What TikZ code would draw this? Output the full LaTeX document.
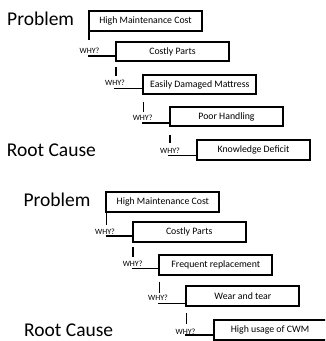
\documentclass[tikz,border=0pt]{standalone}
\usepackage{fontspec}
\setmainfont{Carlito}
\usetikzlibrary{calc}
\begin{document}
\begin{tikzpicture}[x=1pt,y=-1pt,
  causebox/.style={draw, line width=2pt, minimum width=113pt, minimum height=19.5pt, inner sep=0pt, outer sep=0pt, font=\fontsize{9.8}{10}\selectfont},
  conn/.style={line width=1.6pt},
  why/.style={anchor=base, inner sep=0pt, font=\fontsize{8}{8}\selectfont},
  biglabel/.style={anchor=base west, inner sep=0pt, font=\fontsize{19.5}{20}\selectfont}]
\useasboundingbox (0,0) rectangle (325,341);
\clip (0,0) rectangle (325,341);

% ---------- top diagram ----------
\node[biglabel] (tp) at (7,25.7) {Problem};
\node[biglabel] (tr) at (6.7,156) {Root Cause};

\node[causebox] (t1) at (145.5,20.75) {High Maintenance Cost};
\node[causebox] (t2) at (172.5,51.65) {Costly Parts};
\node[causebox] (t3) at (199.8,84.65) {Easily Damaged Mattress};
\node[causebox] (t4) at (226.5,116.65) {Poor Handling};
\node[causebox] (t5) at (253.5,150) {Knowledge Deficit};

\draw[conn] ($(t1.south west)+(0,1.5)$) -- ++(0,8);
\coordinate (th1) at (88.2,56);
\draw[conn] (th1) -- (t2.west |- th1);
\node[why] (tw1) at (89.5,53.3) {WHY?};

\draw[conn] ($(t2.south west)+(0,5.3)$) -- ++(0,9.3);
\coordinate (th2) at (114.2,88.3);
\draw[conn] (th2) -- (t3.west |- th2);
\node[why] (tw2) at (115,85) {WHY?};

\draw[conn] ($(t3.south west)+(0,7.3)$) -- ++(0,10);
\coordinate (th3) at (141.5,122.7);
\draw[conn] (th3) -- (t4.west |- th3);
\node[why] (tw3) at (142.7,120) {WHY?};

\draw[conn] ($(t4.south west)+(0,8.6)$) -- ++(0,8.3);
\coordinate (th4) at (168.2,155.3);
\draw[conn] (th4) -- (t5.west |- th4);
\node[why] (tw4) at (170,153.3) {WHY?};

% ---------- bottom diagram ----------
\node[biglabel] (bp) at (23.3,206) {Problem};
\node[biglabel] (br) at (24,336.7) {Root Cause};

\begin{scope}[every node/.append style={}]
\node[causebox, minimum height=20pt] (b1) at (162.85,201.7) {High Maintenance Cost};
\node[causebox, minimum height=20pt] (b2) at (189.2,231.85) {Costly Parts};
\node[causebox, minimum height=20pt] (b3) at (215.85,265) {Frequent replacement};
\node[causebox, minimum height=20pt] (b4) at (242.85,296.3) {Wear and tear};
\node[causebox, minimum height=20pt] (b5) at (270,330.3) {High usage of CWM};
\end{scope}

\draw[conn] ($(b1.south west)+(0,1.6)$) -- ++(0,11.7);
\coordinate (bh1) at (105.7,236);
\draw[conn] (bh1) -- (b2.west |- bh1);
\node[why] (bw1) at (105,234) {WHY?};

\draw[conn] ($(b2.south west)+(0,5.5)$) -- ++(0,9.4);
\coordinate (bh2) at (131.7,268.3);
\draw[conn] (bh2) -- (b3.west |- bh2);
\node[why] (bw2) at (132.7,266) {WHY?};

\draw[conn] ($(b3.south west)+(0,6.7)$) -- ++(0,11);
\coordinate (bh3) at (158,303.3);
\draw[conn] (bh3) -- (b4.west |- bh3);
\node[why] (bw3) at (158,300) {WHY?};

\draw[conn] ($(b4.south west)+(0,7)$) -- ++(0,10.7);
\coordinate (bh4) at (184.5,335);
\draw[conn] (bh4) -- (b5.west |- bh4);
\node[why] (bw4) at (185.5,334) {WHY?};
\end{tikzpicture}
\end{document}
